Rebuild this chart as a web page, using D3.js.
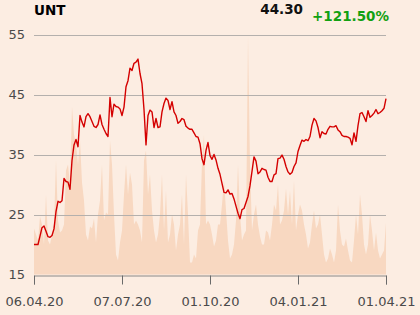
<!DOCTYPE html>
<html><head><meta charset="utf-8">
<script src="https://cdn.jsdelivr.net/npm/d3@7"></script>
<style>
html,body{margin:0;padding:0;background:#fcede2;}
svg{display:block;}
text{font-family:"DejaVu Sans",sans-serif;}
</style></head>
<body><svg id="c" width="420" height="315"></svg>
<script>
const ticker = "UNT";
const lastPrice = "44.30";
const change = "+121.50%";
const yTicks = [15, 25, 35, 45, 55];
const xTickLabels = ["06.04.20", "07.07.20", "01.10.20", "04.01.21", "01.04.21"];
const xTickIdx = [0, 44, 88, 132, 176];
const price = [
20.0,20.0,20.0,21.4,22.8,23.1,22.2,21.3,21.2,21.5,
22.6,25.5,27.2,27.0,27.3,31.0,30.5,30.4,29.2,34.0,
36.6,37.5,36.3,41.5,40.4,39.6,41.3,41.8,41.3,40.5,
39.7,39.5,40.0,41.6,40.0,39.2,38.5,38.0,44.5,41.3,
43.4,43.0,42.9,42.6,41.5,42.9,46.3,47.3,49.4,49.0,
50.2,50.4,50.9,48.5,46.8,42.5,36.6,41.5,42.4,42.1,
39.5,41.0,39.5,39.6,42.1,43.5,44.4,44.0,42.5,43.8,
42.1,41.5,40.2,40.5,41.0,40.8,39.7,39.4,39.2,39.2,
38.6,38.0,37.9,36.8,34.3,33.3,35.7,37.0,34.8,34.2,
35.0,34.1,32.7,31.7,30.2,28.7,28.6,29.1,28.4,28.5,
27.6,26.4,25.2,24.3,25.8,26.0,27.0,28.0,29.8,32.2,
34.6,33.9,31.8,32.1,32.7,32.5,32.4,31.2,30.5,30.5,
31.6,31.8,34.3,34.4,34.9,34.2,33.0,32.1,31.7,32.0,
33.0,33.6,35.5,36.5,37.4,37.2,37.5,37.3,38.0,39.9,
41.0,40.6,39.5,37.8,38.8,38.5,38.4,39.2,39.7,39.6,
39.6,39.8,39.1,38.8,38.2,38.0,38.0,37.9,37.7,36.6,
38.6,37.2,39.8,41.8,42.0,41.3,40.5,42.3,41.2,41.5,
41.9,42.5,41.8,42.0,42.3,42.7,44.3
];
const volume = [
2.3,2.0,1.7,2.9,2.5,1.5,4.0,1.7,1.5,2.0,
2.5,5.7,2.7,2.1,2.2,2.5,5.2,5.5,4.5,8.4,
7.0,6.5,5.5,6.7,4.6,3.7,2.0,1.7,2.4,2.3,
2.8,1.6,3.0,3.7,5.5,2.7,3.1,3.0,6.7,5.5,
3.0,1.0,0.7,1.6,2.2,4.0,5.5,4.0,5.1,4.5,
2.5,2.7,2.5,2.2,1.6,5.7,6.2,4.0,5.0,3.2,
2.2,1.6,2.0,3.0,5.0,2.2,4.2,1.6,2.0,3.0,
2.5,1.2,2.0,2.5,4.0,1.5,5.0,3.0,0.6,0.6,
1.0,0.8,2.2,2.5,5.6,7.0,2.5,2.7,2.5,2.0,
1.4,1.7,2.5,2.5,3.5,4.7,3.2,1.7,0.8,1.0,
1.5,2.7,5.5,3.0,1.7,2.0,2.2,11.9,5.5,2.2,
3.0,3.5,2.5,1.9,1.5,1.5,2.2,2.1,1.7,2.5,
3.5,3.2,4.5,2.5,2.7,3.2,4.3,3.0,4.2,2.5,
4.7,2.2,3.0,3.5,3.2,2.5,2.0,1.3,1.6,2.5,
3.2,2.3,2.5,3.0,2.0,1.0,0.6,0.8,1.3,1.0,
0.6,1.2,3.5,2.2,1.5,1.4,1.8,1.2,0.7,0.6,
1.7,3.0,2.0,4.0,3.0,1.5,1.0,1.5,3.0,2.2,
1.2,2.1,1.2,0.8,1.0,1.2,2.6
];

const svg = d3.select("#c");
const L = 34, R = 386, T = 34.5, B = 274.5;
const x = d3.scaleLinear().domain([0, price.length - 1]).range([L, R]);
const y = d3.scaleLinear().domain([15, 55]).range([B, T]);
const yv = d3.scaleLinear().domain([0, 12]).range([B, T]);

// volume area
svg.append("path")
  .datum(volume)
  .attr("fill", "#f8d8c1")
  .attr("d", d3.area().x((d, i) => x(i)).y0(B).y1(d => yv(d)));

// gridlines
svg.append("g").selectAll("line").data(yTicks.slice(1)).join("line")
  .attr("x1", L).attr("x2", R)
  .attr("y1", d => Math.round(y(d)) + 0.5).attr("y2", d => Math.round(y(d)) + 0.5)
  .attr("stroke", "#b4b0ad").attr("stroke-width", 1);

// y labels
svg.append("g").selectAll("text").data(yTicks).join("text")
  .attr("x", 25).attr("y", d => y(d)).attr("dy", "0.35em")
  .attr("text-anchor", "end").attr("font-size", 13).attr("fill", "#4a4a4a")
  .text(d => d);

// x axis
const xAxis = d3.axisBottom(x).tickValues(xTickIdx)
  .tickFormat((d, i) => xTickLabels[i]).tickSize(9).tickPadding(12);
const gx = svg.append("g").attr("transform", `translate(0,${Math.round(B) + 0.5})`).call(xAxis);
gx.select(".domain").attr("stroke", "#8a8886");
gx.selectAll(".tick line").attr("stroke", "#6a6a6a");
gx.selectAll(".tick text").attr("font-size", 13).attr("fill", "#4a4a4a")
  .attr("font-family", "DejaVu Sans, sans-serif");

// price line
svg.append("path")
  .datum(price)
  .attr("fill", "none").attr("stroke", "#d40000").attr("stroke-width", 1.4)
  .attr("stroke-linejoin", "round")
  .attr("d", d3.line().x((d, i) => x(i)).y(d => y(d)));

// header
svg.append("text").attr("x", 34).attr("y", 15).attr("font-size", 13.5)
  .attr("font-weight", "bold").attr("fill", "#000").text(ticker);
svg.append("text").attr("x", 303).attr("y", 14).attr("font-size", 13.5)
  .attr("text-anchor", "end").attr("font-weight", "bold").attr("fill", "#111").text(lastPrice);
svg.append("text").attr("x", 389).attr("y", 21).attr("font-size", 13.5)
  .attr("text-anchor", "end").attr("font-weight", "bold").attr("fill", "#12a012").text(change);
</script></body></html>
